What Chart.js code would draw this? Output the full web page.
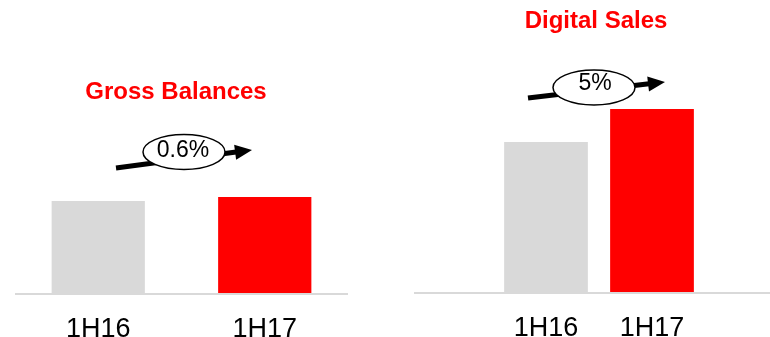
<!DOCTYPE html>
<html>
<head>
<meta charset="utf-8">
<script src="https://cdn.jsdelivr.net/npm/chart.js@4/dist/chart.umd.min.js"></script>
<style>
  html, body { margin: 0; padding: 0; background: #fff; overflow: hidden; }
  #wrap { position: relative; width: 770px; height: 337px; }
  .pane { position: absolute; top: 0; height: 337px; }
  #left { left: 0; width: 385px; }
  #right { left: 400px; width: 370px; }
</style>
</head>
<body>
<div id="wrap">
  <div class="pane" id="left"><canvas id="grossChart"></canvas></div>
  <div class="pane" id="right"><canvas id="digitalChart"></canvas></div>
</div>
<script>
// Half-year periods on the category axis
const periods = ['1H16', '1H17'];
// Bar heights on an index scale of 0-100
const grossBalances = [46, 48];
const digitalSales = [75, 91.5];
// Growth callouts shown in the bubbles
const grossGrowth = '0.6%';
const digitalGrowth = '5%';
// Panel titles
const grossTitle = 'Gross Balances';
const digitalTitle = 'Digital Sales';

const barColors = ['#d9d9d9', '#ff0000'];
const FONT = "'Liberation Sans', Arial, Helvetica, sans-serif";

function drawArrow(ctx, x0, y0, x1, y1, width, headLen, headW) {
  const ang = Math.atan2(y1 - y0, x1 - x0);
  const cos = Math.cos(ang), sin = Math.sin(ang);
  const bx = x1 - headLen * cos, by = y1 - headLen * sin;
  ctx.strokeStyle = '#000';
  ctx.lineWidth = width;
  ctx.lineCap = 'butt';
  ctx.beginPath();
  ctx.moveTo(x0, y0);
  ctx.lineTo(bx + cos, by + sin);
  ctx.stroke();
  ctx.fillStyle = '#000';
  ctx.beginPath();
  ctx.moveTo(x1, y1);
  ctx.lineTo(bx - sin * headW / 2, by + cos * headW / 2);
  ctx.lineTo(bx + sin * headW / 2, by - cos * headW / 2);
  ctx.closePath();
  ctx.fill();
}

// Draws the panel title, the full-width baseline and the growth bubble with its arrow
const panelDecor = {
  id: 'panelDecor',
  beforeDatasetsDraw(chart, args, opts) {
    const ctx = chart.ctx;
    const y = chart.chartArea.bottom + 1;
    ctx.save();
    ctx.strokeStyle = '#d9d9d9';
    ctx.lineWidth = 2;
    ctx.beginPath();
    ctx.moveTo(opts.baseline.x0, y);
    ctx.lineTo(opts.baseline.x1, y);
    ctx.stroke();
    ctx.restore();
  },
  afterDraw(chart, args, opts) {
    const ctx = chart.ctx;
    ctx.save();
    // title
    ctx.font = 'bold 24px ' + FONT;
    ctx.fillStyle = '#ff0000';
    ctx.textAlign = 'center';
    ctx.textBaseline = 'middle';
    ctx.fillText(opts.title.text, opts.title.x, opts.title.y);
    // arrow
    const g = opts.growth;
    drawArrow(ctx, g.from[0], g.from[1], g.to[0], g.to[1], 5, 17, 15);
    // bubble
    ctx.beginPath();
    ctx.ellipse(g.cx, g.cy, g.rx, g.ry, 0, 0, Math.PI * 2);
    ctx.fillStyle = '#fff';
    ctx.fill();
    ctx.lineWidth = 1.5;
    ctx.strokeStyle = '#000';
    ctx.stroke();
    ctx.font = '23px ' + FONT;
    ctx.fillStyle = '#000';
    ctx.textAlign = 'center';
    ctx.textBaseline = 'middle';
    ctx.fillText(g.text, g.tx, g.ty);
    ctx.restore();
  }
};

function makeChart(id, values, pad, catPct, axisHeight, decor) {
  return new Chart(document.getElementById(id), {
    type: 'bar',
    data: {
      labels: periods,
      datasets: [{
        data: values,
        backgroundColor: barColors,
        borderWidth: 0,
        barPercentage: 1,
        categoryPercentage: catPct
      }]
    },
    options: {
      responsive: true,
      maintainAspectRatio: false,
      animation: false,
      layout: { padding: pad },
      scales: {
        x: {
          grid: { display: false, drawTicks: false },
          border: { display: false },
          ticks: { color: '#000', padding: 20, font: { family: FONT, size: 27 } },
          afterFit(scale) { scale.height = axisHeight; }
        },
        y: { display: false, min: 0, max: 100 }
      },
      plugins: {
        legend: { display: false },
        tooltip: { enabled: false },
        panelDecor: decor
      }
    },
    plugins: [panelDecor]
  });
}

makeChart('grossChart', grossBalances, { top: 93, left: 15, right: 37, bottom: 0 }, 0.56, 44, {
  title: { text: grossTitle, x: 176, y: 92 },
  baseline: { x0: 15, x1: 348 },
  growth: { text: grossGrowth, cx: 184, cy: 152, rx: 41, ry: 17.5, tx: 183, ty: 151,
            from: [116, 168], to: [252, 150] }
});

makeChart('digitalChart', digitalSales, { top: 92, left: 93, right: 65, bottom: 0 }, 0.79, 45, {
  title: { text: digitalTitle, x: 196, y: 21 },
  baseline: { x0: 14, x1: 370 },
  growth: { text: digitalGrowth, cx: 194, cy: 87.5, rx: 41, ry: 17.5, tx: 195, ty: 84,
            from: [128, 98], to: [265, 82] }
});
</script>
</body>
</html>
